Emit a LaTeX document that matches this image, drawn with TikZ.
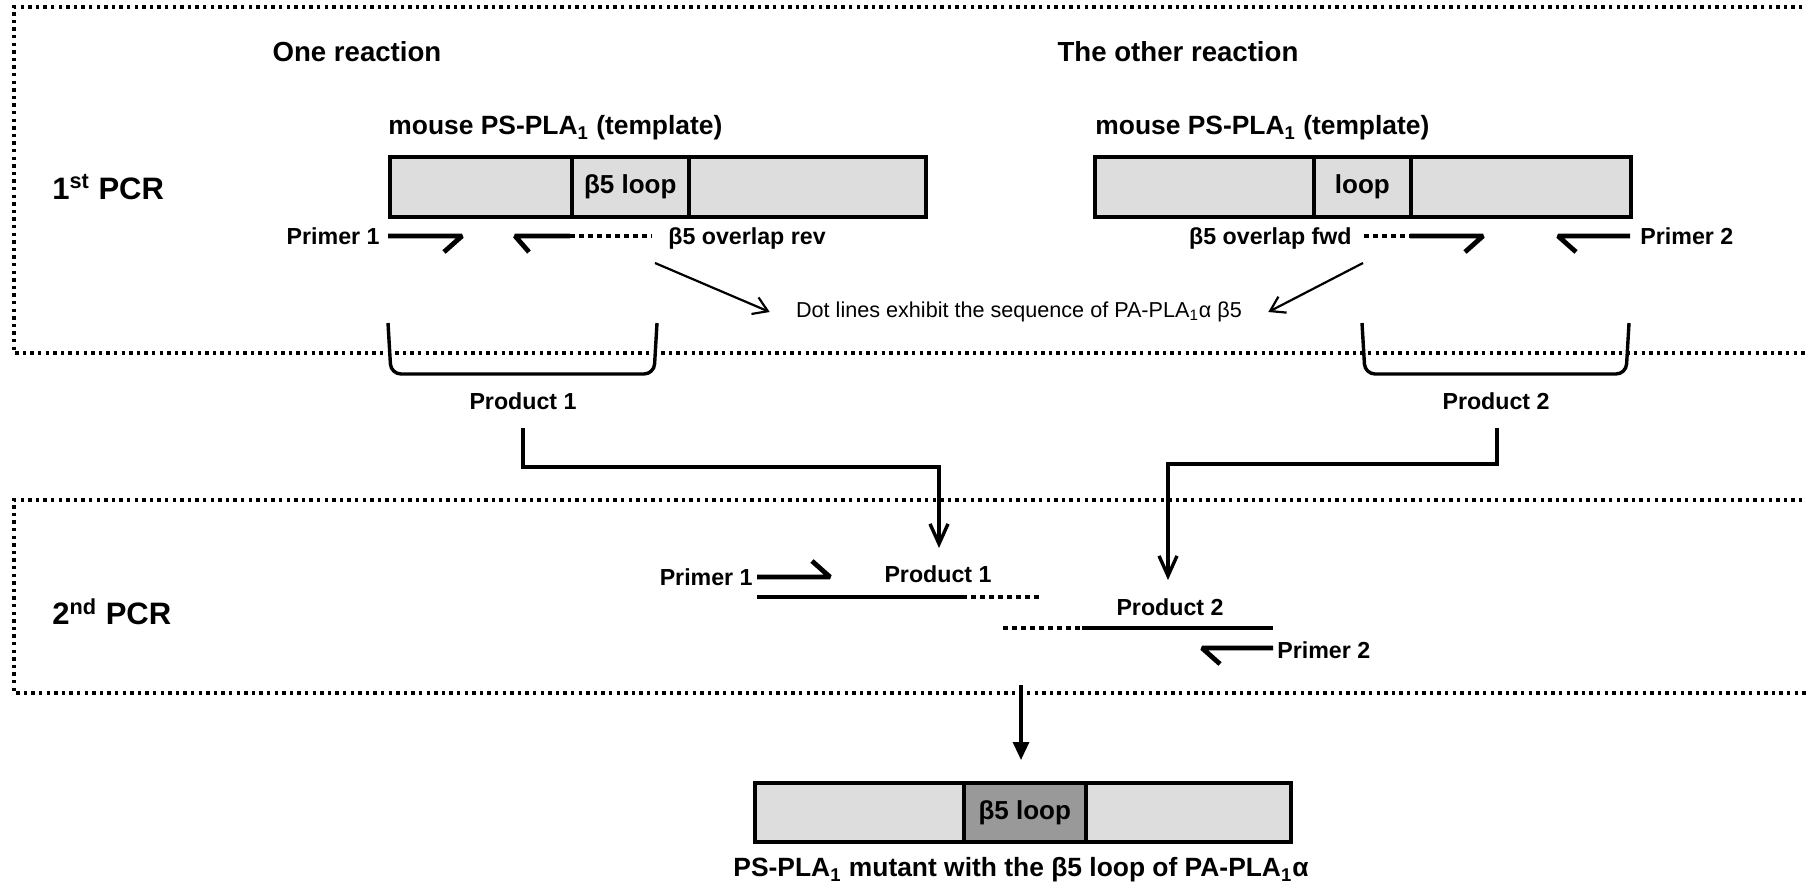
\documentclass[tikz,border=0pt]{standalone}
\usepackage{fontspec}
\setmainfont{Liberation Sans}
\usetikzlibrary{arrows.meta}
\definecolor{boxgray}{RGB}{221,221,221}
\definecolor{loopgray}{RGB}{153,153,153}
\begin{document}
\begin{tikzpicture}[x=0.5pt,y=-0.5pt,
  frame/.style={line width=1.7pt, dash pattern=on 1.7pt off 2.1pt},
  seg/.style={draw, line width=1.8pt, fill=boxgray, minimum height=30pt, inner sep=0pt, anchor=north west},
  primer/.style={line width=2.4pt, line join=bevel},
  dna/.style={line width=2.4pt},
  dnadot/.style={line width=2.4pt, dash pattern=on 2.5pt off 2pt},
  conn/.style={line width=1.7pt, -{Straight Barb[length=10pt,width=9pt,line width=1.7pt]}},
  pointer/.style={line width=1.1pt, -{Straight Barb[length=7pt,width=9pt,line width=1.1pt]}},
  bracket/.style={line width=1.7pt, rounded corners=5pt},
  head/.style={font=\fontsize{13.8pt}{16pt}\selectfont\bfseries, inner sep=0pt},
  pcr/.style={font=\fontsize{15.5pt}{18pt}\selectfont\bfseries, inner sep=0pt, anchor=west},
  tmpl/.style={font=\fontsize{13.2pt}{16pt}\selectfont\bfseries, inner sep=0pt, anchor=west},
  lab/.style={font=\fontsize{11.6pt}{14pt}\selectfont\bfseries, inner sep=0pt},
  note/.style={font=\fontsize{10.8pt}{13pt}\selectfont, inner ysep=0pt, inner xsep=13pt},
  intext/.style={font=\fontsize{13pt}{16pt}\selectfont\bfseries}
]
\useasboundingbox (0,0) rectangle (1807,883);

% dotted frames
\draw[frame] (1810,7) -- (14,7) -- (14,353) -- (1810,353);
\draw[frame] (1810,500) -- (14,500) -- (14,693) -- (1810,693);

% headings
\node[head] (h1) at (357,52) {One reaction};
\node[head] (h2) at (1178,52) {The other reaction};
\node[pcr] (pcr1) at (52,187) {1\textsuperscript{st} PCR};
\node[pcr] (pcr2) at (52,612) {2\textsuperscript{nd} PCR};

% left template
\node[tmpl] (tl1) at (388,128) {mouse PS-PLA\textsubscript{1} (template)};
\node[seg, minimum width=91pt] (la) at (388,155) {};
\node[seg, minimum width=58.5pt, intext] (lb) at (570,155) {β5 loop};
\node[seg, minimum width=118.5pt] (lc) at (687,155) {};

% right template
\node[tmpl] (tl2) at (1095,128) {mouse PS-PLA\textsubscript{1} (template)};
\node[seg, minimum width=109.5pt] (ra) at (1093,155) {};
\node[seg, minimum width=48.5pt, intext] (rb) at (1312,155) {loop};
\node[seg, minimum width=110pt] (rc) at (1409,155) {};

% primers 1st PCR
\node[lab, anchor=east] (pr1) at (380,236) {Primer 1};
\draw[primer] (388,236) -- (462,236) -- (444,252);
\draw[primer] (529,252) -- (515,236) -- (570,236);
\draw[dnadot] (570,236) -- (652,236);
\node[lab, anchor=west] (ovr) at (668,238) {β5 overlap rev};

\node[lab, anchor=east] (ovf) at (1352,238) {β5 overlap fwd};
\draw[dnadot] (1364,236) -- (1410,236);
\draw[primer] (1410,236) -- (1483,236) -- (1465,252);
\draw[primer] (1576,252) -- (1558,236) -- (1630,236);
\node[lab, anchor=west] (pr2) at (1640,236) {Primer 2};

% note and pointers
\node[note] (note) at (1019,312) {Dot lines exhibit the sequence of PA-PLA\textsubscript{1}α β5};
\coordinate (pa) at (655,263);
\coordinate (pb) at (1363,263);
\draw[pointer] (pa) -- (note.west);
\draw[pointer] (pb) -- (note.east);

% brackets
\draw[bracket] (388,323) -- (391,374) -- (654,374) -- (657,323);
\draw[bracket] (1362,323) -- (1365,374) -- (1626,374) -- (1629,323);
\node[lab] (prod1) at (523,401) {Product 1};
\node[lab] (prod2) at (1496,401) {Product 2};

% connectors
\coordinate (c1a) at (523,428);
\coordinate (c1b) at (939,467);
\coordinate (c1c) at (939,548);
\draw[conn] (c1a) |- (c1b) -- (c1c);
\coordinate (c2a) at (1497,428);
\coordinate (c2b) at (1168,464);
\coordinate (c2c) at (1168,580);
\draw[conn] (c2a) |- (c2b) -- (c2c);

% 2nd PCR
\node[lab, anchor=east] (pr1b) at (753,577) {Primer 1};
\draw[primer] (757,577) -- (830,577) -- (812,561);
\node[lab] (prod1b) at (938,574) {Product 1};
\draw[dna] (757,597) -- (962,597);
\draw[dnadot] (962,597) -- (1042,597);
\draw[dnadot] (1003,628) -- (1082,628);
\draw[dna] (1082,628) -- (1273,628);
\node[lab] (prod2b) at (1170,607) {Product 2};
\draw[primer] (1273,648) -- (1202,648) -- (1220,664);
\node[lab, anchor=west] (pr2b) at (1277,650) {Primer 2};

% final arrow
\coordinate (fa) at (1021,685);
\coordinate (fb) at (1021,760);
\draw[line width=1.6pt, -{Triangle[length=9pt,width=8pt]}] (fa) -- (fb);

% mutant
\node[seg, minimum width=104.5pt, minimum height=29.5pt] (ma) at (753,781) {};
\node[seg, minimum width=61pt, minimum height=29.5pt, fill=loopgray, intext] (mb) at (962,781) {β5 loop};
\node[seg, minimum width=102.5pt, minimum height=29.5pt] (mc) at (1084,781) {};
\node[tmpl, anchor=center] (cap) at (1021,870) {PS-PLA\textsubscript{1} mutant with the β5 loop of PA-PLA\textsubscript{1}α};
\end{tikzpicture}
\end{document}
